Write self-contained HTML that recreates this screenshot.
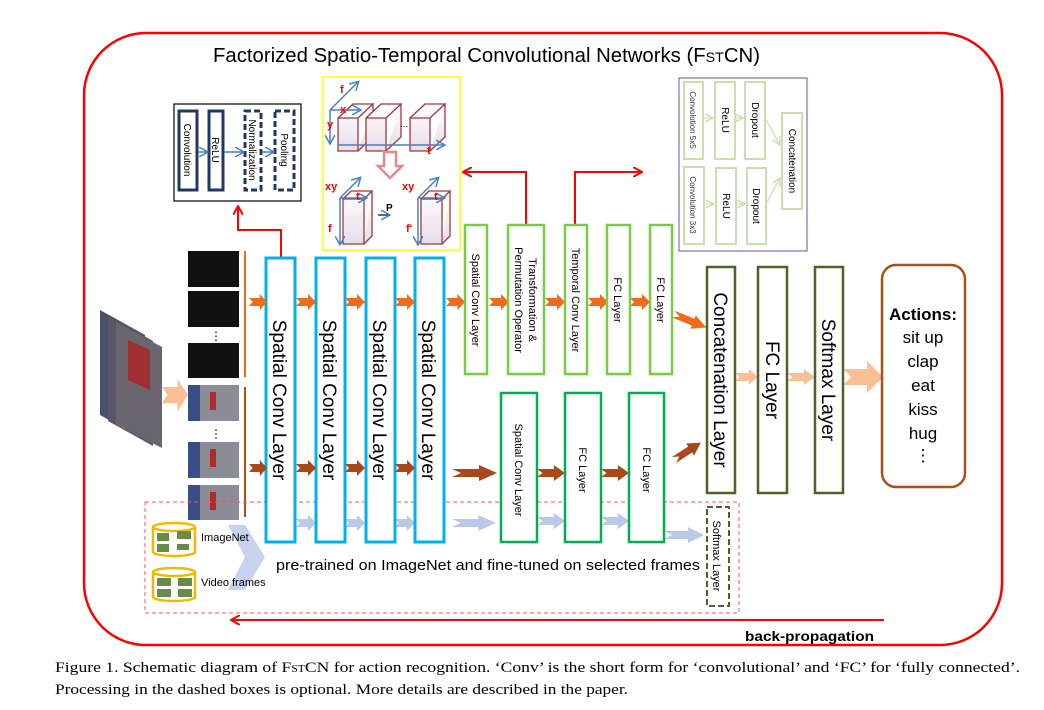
<!DOCTYPE html>
<html><head><meta charset="utf-8"><style>
html,body{margin:0;padding:0;background:#fff;}
svg{display:block;font-family:"Liberation Sans",sans-serif;}
</style></head><body>
<svg width="1044" height="710" viewBox="0 0 1044 710" xmlns="http://www.w3.org/2000/svg">
<defs>
<polygon id="ar" points="0,-4 12,-4 12,-8 20,0 12,8 12,4 0,4 4,0"/>
<linearGradient id="box" x1="0" y1="0" x2="0" y2="1"><stop offset="0" stop-color="#fff"/><stop offset="1" stop-color="#e8dde8"/></linearGradient>
<marker id="rh" markerWidth="10" markerHeight="10" refX="8" refY="5" orient="auto" markerUnits="userSpaceOnUse"><path d="M0,0 L9,5 L0,10" fill="none" stroke="#f00" stroke-width="2"/></marker>
<marker id="bh" markerWidth="10" markerHeight="10" refX="8" refY="5" orient="auto" markerUnits="userSpaceOnUse"><path d="M0,0 L9,5 L0,10" fill="none" stroke="#4a7fc0" stroke-width="1.5"/></marker>
<marker id="gh" markerWidth="10" markerHeight="10" refX="8" refY="5" orient="auto" markerUnits="userSpaceOnUse"><path d="M0,1 L8,5 L0,9" fill="none" stroke="#c8e0b0" stroke-width="1.5"/></marker>
</defs>

<rect x="84" y="33" width="918" height="612" rx="62" fill="none" stroke="#f00" stroke-width="2.5"/>
<text x="213" y="62" font-size="20" textLength="547" lengthAdjust="spacingAndGlyphs">Factorized Spatio-Temporal Convolutional Networks (F<tspan font-size="14">ST</tspan>CN)</text>

<rect x="174" y="104" width="127" height="97" fill="#fff" stroke="#000" stroke-width="1.2"/>
<g fill="none" stroke="#1f3864" stroke-width="3">
<rect x="179" y="111" width="18" height="79"/>
<rect x="209" y="111" width="14" height="79"/>
<rect x="245" y="111" width="16" height="79" stroke-dasharray="6,3"/>
<rect x="275" y="111" width="19" height="79" stroke-dasharray="6,3"/>
</g>
<g stroke="#4a7fc0" stroke-width="1.5" marker-end="url(#bh)"><line x1="198" y1="152" x2="207" y2="152"/><line x1="224" y1="152" x2="243" y2="152"/><line x1="262" y1="152" x2="273" y2="152"/></g>
<g font-size="10" fill="#000">
<text transform="translate(184,150) rotate(90)" text-anchor="middle">Convolution</text>
<text transform="translate(212,150) rotate(90)" text-anchor="middle">ReLU</text>
<text transform="translate(249,150) rotate(90)" text-anchor="middle">Normalization</text>
<text transform="translate(281,150) rotate(90)" text-anchor="middle">Pooling</text>
</g>

<rect x="323" y="77" width="137" height="173" fill="#fff" stroke="#ff0" stroke-width="1.5"/>
<g fill="url(#box)" stroke="#a0383a" stroke-width="1.3">
<path d="M338,118 h20 v33 h-20z M338,118 l15,-14 h20 l-15,14 M358,151 l15,-14 v-33"/>
<path d="M366,118 h20 v33 h-20z M366,118 l15,-14 h20 l-15,14 M386,151 l15,-14 v-33"/>
<path d="M410,118 h20 v33 h-20z M410,118 l15,-14 h20 l-15,14 M430,151 l15,-14 v-33"/>
<path d="M343,199 h21 v45 h-21z M343,199 l8,-8 h21 l-8,8 M364,244 l8,-8 v-45"/>
<path d="M421,199 h21 v45 h-21z M421,199 l8,-8 h21 l-8,8 M442,244 l8,-8 v-45"/>
</g>
<g stroke="#4a7fc0" stroke-width="1.5" fill="none">
<line x1="330" y1="110" x2="358" y2="82" marker-end="url(#bh)"/>
<line x1="330" y1="110" x2="360" y2="110" marker-end="url(#bh)"/>
<line x1="330" y1="110" x2="330" y2="143" marker-end="url(#bh)"/>
<line x1="338" y1="145" x2="444" y2="145" marker-end="url(#bh)"/>
<line x1="340" y1="198" x2="360" y2="178" marker-end="url(#bh)"/>
<line x1="340" y1="198" x2="366" y2="198" marker-end="url(#bh)"/>
<line x1="340" y1="198" x2="340" y2="244" marker-end="url(#bh)"/>
<line x1="418" y1="198" x2="438" y2="178" marker-end="url(#bh)"/>
<line x1="418" y1="198" x2="444" y2="198" marker-end="url(#bh)"/>
<line x1="418" y1="198" x2="418" y2="244" marker-end="url(#bh)"/>
</g>
<path d="M378,215 l11,0" stroke="#1f3864" stroke-width="1.5" marker-end="url(#bh)"/>
<path d="M384,152 h12 v14 h6 l-12,12 l-12,-12 h6z" fill="#fff" stroke="#e08a8a" stroke-width="2.5"/>
<g fill="#f00" font-size="11" font-weight="bold">
<text x="340" y="93">f</text><text x="340" y="113">x</text><text x="327" y="128">y</text><text x="427" y="154">t</text>
<text x="325" y="190">xy</text><text x="356" y="200">t</text><text x="328" y="232">f</text>
<text x="402" y="190">xy</text><text x="434" y="200">t</text><text x="406" y="232">f'</text>
</g>
<text x="386" y="211" font-size="10" font-weight="bold">P</text>
<text x="400" y="127" font-size="10">...</text>

<rect x="679" y="78" width="128" height="173" fill="#fff" stroke="#8e6cae" stroke-width="1.2"/>
<g fill="none" stroke="#c8e0b0" stroke-width="2">
<rect x="684" y="82" width="19" height="77"/><rect x="715" y="82" width="20" height="77"/><rect x="745" y="82" width="20" height="77"/>
<rect x="684" y="167" width="20" height="77"/><rect x="716" y="168" width="20" height="76"/><rect x="747" y="168" width="19" height="76"/>
<rect x="782" y="113" width="20" height="96"/>
</g>
<g stroke="#c8e0b0" stroke-width="1.2" marker-end="url(#gh)"><line x1="703" y1="118" x2="713" y2="118"/><line x1="735" y1="118" x2="743" y2="118"/><line x1="704" y1="204" x2="714" y2="204"/><line x1="736" y1="204" x2="745" y2="204"/><line x1="765" y1="118" x2="780" y2="145"/><line x1="766" y1="204" x2="780" y2="178"/></g>
<g font-size="8" fill="#333">
<text transform="translate(690,120) rotate(90)" text-anchor="middle">Convolution 5x5</text>
<text transform="translate(690,205) rotate(90)" text-anchor="middle">Convolution 3x3</text>
</g>
<g font-size="10" fill="#000">
<text transform="translate(722,120) rotate(90)" text-anchor="middle">ReLU</text>
<text transform="translate(752,120) rotate(90)" text-anchor="middle">Dropout</text>
<text transform="translate(723,206) rotate(90)" text-anchor="middle">ReLU</text>
<text transform="translate(753,206) rotate(90)" text-anchor="middle">Dropout</text>
<text transform="translate(789,161) rotate(90)" text-anchor="middle">Concatenation</text>
</g>

<path d="M281,258 V230 H238 V207" fill="none" stroke="#f00" stroke-width="2" marker-end="url(#rh)"/>
<path d="M526,225 V172 H464" fill="none" stroke="#f00" stroke-width="2" marker-end="url(#rh)"/>
<path d="M575,225 V172 H641" fill="none" stroke="#f00" stroke-width="2" marker-end="url(#rh)"/>

<g>
<polygon points="100,310 145,335 145,440 100,415" fill="#4a4f6a"/>
<polygon points="108,316 153,341 153,446 108,421" fill="#5a5668"/>
<polygon points="116,322 162,347 162,448 116,425" fill="#6b6570"/>
<polygon points="128,340 150,350 150,390 128,380" fill="#a03030"/>
</g>
<use href="#ar" transform="translate(162,395) scale(1.3,2)" fill="#fbbf95"/>

<g fill="#111">
<rect x="188" y="251" width="51" height="36"/><rect x="188" y="291" width="51" height="36"/><rect x="188" y="343" width="51" height="35"/>
</g>
<g fill="#8a8c96">
<rect x="188" y="385" width="51" height="36"/><rect x="188" y="442" width="51" height="36"/><rect x="188" y="485" width="51" height="35"/>
</g>
<g fill="#3a4e86"><rect x="188" y="385" width="12" height="36"/><rect x="188" y="442" width="12" height="36"/><rect x="188" y="485" width="12" height="35"/></g>
<g fill="#b02a2a"><rect x="210" y="392" width="6" height="18"/><rect x="210" y="449" width="6" height="18"/><rect x="210" y="492" width="6" height="18"/></g>
<g font-size="12" fill="#000"><text x="210" y="340">⋮</text><text x="210" y="438">⋮</text></g>
<line x1="245" y1="251" x2="245" y2="377" stroke="#f26b1d" stroke-width="2"/>
<line x1="245" y1="387" x2="245" y2="517" stroke="#a9501b" stroke-width="2"/>

<rect x="145" y="502" width="594" height="111" fill="none" stroke="#f55" stroke-width="1" stroke-dasharray="4,3"/>

<g fill="#bcc8e8">
<use href="#ar" transform="translate(296,523) scale(1,1)"/>
<use href="#ar" transform="translate(345,523) scale(1,1)"/>
<use href="#ar" transform="translate(395,523) scale(1,1)"/>
<use href="#ar" transform="translate(452,523) scale(2.2,1)"/>
<use href="#ar" transform="translate(537,521) scale(1.4,1)"/>
<use href="#ar" transform="translate(601,521) scale(1.4,1)"/>
<use href="#ar" transform="translate(664,535) scale(2,1)"/>
<polygon points="228,525 245,525 265,557 245,590 228,590 245,557" fill="#c6d2ee"/>
</g>

<g fill="#fff" stroke="#00b0f0" stroke-width="3">
<rect x="266" y="258" width="29" height="284"/><rect x="316" y="258" width="29" height="284"/><rect x="366" y="258" width="29" height="284"/><rect x="415" y="258" width="29" height="284"/>
</g>
<g font-size="19">
<text transform="translate(273,400) rotate(90)" text-anchor="middle">Spatial Conv Layer</text>
<text transform="translate(323,400) rotate(90)" text-anchor="middle">Spatial Conv Layer</text>
<text transform="translate(373,400) rotate(90)" text-anchor="middle">Spatial Conv Layer</text>
<text transform="translate(422,400) rotate(90)" text-anchor="middle">Spatial Conv Layer</text>
</g>

<g fill="#f26b1d">
<use href="#ar" transform="translate(249,302) scale(0.9,1)"/>
<use href="#ar" transform="translate(296,302)"/>
<use href="#ar" transform="translate(345,302)"/>
<use href="#ar" transform="translate(395,302)"/>
<use href="#ar" transform="translate(446,302) scale(0.95,1)"/>
<use href="#ar" transform="translate(489,302)"/>
<use href="#ar" transform="translate(545,302)"/>
<use href="#ar" transform="translate(588,302)"/>
<use href="#ar" transform="translate(630,302)"/>
<use href="#ar" transform="translate(673,314) rotate(22) scale(1.8,0.9)"/>
</g>
<g fill="#a9481a">
<use href="#ar" transform="translate(249,468) scale(0.9,1)"/>
<use href="#ar" transform="translate(296,468)"/>
<use href="#ar" transform="translate(345,468)"/>
<use href="#ar" transform="translate(395,468)"/>
<use href="#ar" transform="translate(452,473) scale(2.25,1)"/>
<use href="#ar" transform="translate(537,473) scale(1.4,1)"/>
<use href="#ar" transform="translate(601,473) scale(1.4,1)"/>
<use href="#ar" transform="translate(674,460) rotate(-33) scale(1.6,0.9)"/>
</g>
<g fill="#fbbf95">
<use href="#ar" transform="translate(735,377) scale(1.15,1)"/>
<use href="#ar" transform="translate(787,377) scale(1.4,1)"/>
<use href="#ar" transform="translate(843,377) scale(2,2)"/>
</g>

<g fill="#fff" stroke="#77cc44" stroke-width="2.5">
<rect x="465" y="225" width="22" height="149"/><rect x="508" y="225" width="36" height="149"/><rect x="565" y="225" width="22" height="149"/><rect x="607" y="225" width="23" height="149"/><rect x="650" y="225" width="22" height="149"/>
</g>
<g fill="#fff" stroke="#00b050" stroke-width="2.5">
<rect x="501" y="393" width="36" height="149"/><rect x="565" y="393" width="36" height="149"/><rect x="629" y="393" width="35" height="149"/>
</g>
<g font-size="11">
<text transform="translate(472,300) rotate(90)" text-anchor="middle">Spatial Conv Layer</text>
<text transform="translate(529,300) rotate(90)" text-anchor="middle">Transformation &amp;</text>
<text transform="translate(515,300) rotate(90)" text-anchor="middle">Permutation Operator</text>
<text transform="translate(572,300) rotate(90)" text-anchor="middle">Temporal Conv Layer</text>
<text transform="translate(614,300) rotate(90)" text-anchor="middle">FC  Layer</text>
<text transform="translate(657,300) rotate(90)" text-anchor="middle">FC  Layer</text>
<text transform="translate(515,470) rotate(90)" text-anchor="middle">Spatial Conv Layer</text>
<text transform="translate(579,470) rotate(90)" text-anchor="middle">FC  Layer</text>
<text transform="translate(643,470) rotate(90)" text-anchor="middle">FC  Layer</text>
</g>

<g fill="#fff" stroke="#4f6228" stroke-width="2.5">
<rect x="707" y="267" width="28" height="226"/><rect x="758" y="267" width="29" height="226"/><rect x="815" y="267" width="28" height="226"/>
</g>
<rect x="707" y="507" width="22" height="99" fill="#fff" stroke="#4f6228" stroke-width="2" stroke-dasharray="6,3"/>
<g font-size="19">
<text transform="translate(714,380) rotate(90)" text-anchor="middle">Concatenation Layer</text>
<text transform="translate(766,380) rotate(90)" text-anchor="middle">FC Layer</text>
<text transform="translate(822,380) rotate(90)" text-anchor="middle">Softmax Layer</text>
</g>
<text transform="translate(713,556) rotate(90)" text-anchor="middle" font-size="11">Softmax Layer</text>

<rect x="882" y="265" width="83" height="222" rx="14" fill="#fff" stroke="#a9501b" stroke-width="2.5"/>
<g font-size="17" text-anchor="middle">
<text x="923" y="320" font-weight="bold">Actions:</text>
<text x="923" y="343">sit up</text><text x="923" y="367">clap</text><text x="923" y="391">eat</text><text x="923" y="415">kiss</text><text x="923" y="439">hug</text><text x="923" y="461">⋮</text>
</g>

<g fill="#fff" stroke="#f5b800" stroke-width="2.5">
<path d="M153,527 v25 a21,4 0 0 0 42,0 v-25"/><ellipse cx="174" cy="527" rx="21" ry="4"/>
<path d="M153,572 v25 a21,4 0 0 0 42,0 v-25"/><ellipse cx="174" cy="572" rx="21" ry="4"/>
</g>
<g fill="#6a8a4a"><rect x="157" y="533" width="12" height="8"/><rect x="177" y="531" width="14" height="8"/><rect x="157" y="544" width="12" height="8"/><rect x="177" y="544" width="12" height="6"/>
<rect x="157" y="578" width="14" height="8"/><rect x="178" y="578" width="14" height="8"/><rect x="157" y="589" width="14" height="8"/><rect x="178" y="589" width="14" height="8"/></g>
<g font-size="11"><text x="201" y="541">ImageNet</text><text x="201" y="586">Video frames</text></g>
<text x="276" y="570" font-size="15" textLength="424" lengthAdjust="spacingAndGlyphs">pre-trained on ImageNet and fine-tuned on selected frames</text>

<line x1="884" y1="620" x2="232" y2="620" stroke="#f00" stroke-width="2" marker-end="url(#rh)"/>
<text x="745" y="641" font-size="14" font-weight="bold" textLength="129" lengthAdjust="spacingAndGlyphs">back-propagation</text>

<g font-family="Liberation Serif, serif" font-size="15">
<text x="55" y="672" textLength="965" lengthAdjust="spacingAndGlyphs">Figure 1. Schematic diagram of F<tspan font-size="10">ST</tspan>CN for action recognition. ‘Conv’ is the short form for ‘convolutional’ and ‘FC’ for ‘fully connected’.</text>
<text x="55" y="694" textLength="573" lengthAdjust="spacingAndGlyphs">Processing in the dashed boxes is optional. More details are described in the paper.</text>
</g>
</svg>
</body></html>
